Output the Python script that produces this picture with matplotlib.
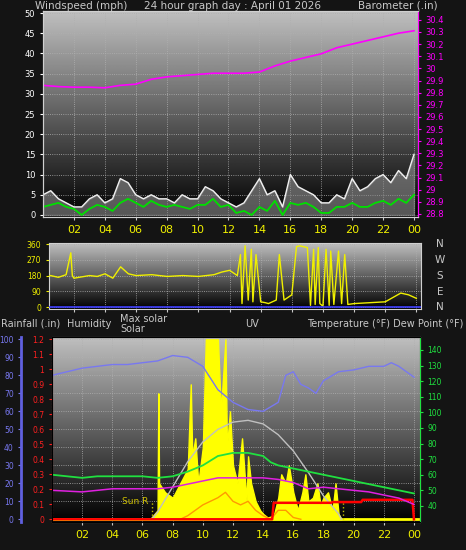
import numpy as np
import matplotlib.pyplot as plt

# top panel: wind (mph) and barometer (in)
wind_t = [0, 0.5, 1, 1.5, 2, 2.5, 3, 3.5, 4, 4.5, 5, 5.5, 6, 6.5, 7, 7.5, 8, 8.5, 9, 9.5, 10, 10.5,
          11, 11.5, 12, 12.5, 13, 13.5, 14, 14.5, 15, 15.5, 16, 16.5, 17, 17.5, 18, 18.5, 19, 19.5,
          20, 20.5, 21, 21.5, 22, 22.5, 23, 23.5, 24]
wind_avg = [2, 2.5, 3, 2, 1.5, 0, 1.5, 2.5, 2, 1, 3, 4, 3, 2, 3.5, 2.5, 2, 2.5, 2, 1.5, 2.5, 2.5,
            4, 2, 2.5, 0.5, 1, 0, 2, 1, 3.5, 0, 3, 2.5, 3, 2, 0.5, 0.5, 2, 2, 3, 2, 2, 3, 3.5,
            2.5, 4, 3, 5]
wind_gust = [5, 6, 4, 3, 2, 2, 4, 5, 3, 4, 9, 8, 5, 4, 5, 4, 4, 3, 5, 4, 4, 7, 6, 4, 3, 2, 3, 6,
             9, 5, 6, 2, 10, 7, 6, 5, 3, 3, 5, 4, 9, 6, 7, 9, 10, 8, 11, 9, 15]
baro_t = list(range(25))
baro = [29.86, 29.85, 29.845, 29.845, 29.84, 29.86, 29.87, 29.91, 29.93, 29.94, 29.95, 29.96,
        29.96, 29.96, 29.97, 30.02, 30.06, 30.09, 30.12, 30.17, 30.20, 30.23, 30.26, 30.29, 30.31]

# middle panel: wind direction (deg)
dir_t = [0, 0.5, 1, 1.5, 1.8, 1.9, 2, 3, 3.5, 4, 4.5, 5, 5.5, 6, 7, 8, 9, 10, 11, 11.5,
         12, 12.5, 12.7, 12.8, 13, 13.2, 13.4, 13.5, 13.7, 14, 14.3, 14.5, 15, 15.2, 15.5, 16,
         16.3, 16.5, 17, 17.2, 17.4, 17.5, 17.7, 17.8, 18, 18.2, 18.4, 18.5, 18.7, 19,
         19.2, 19.4, 19.6, 20, 21, 22, 22.5, 23, 23.5, 24]
dir_deg = [175, 180, 170, 185, 310, 180, 165, 180, 175, 190, 165, 230, 190, 180, 185, 175, 180, 175, 185, 200,
           210, 180, 300, 20, 350, 40, 330, 30, 300, 30, 25, 20, 40, 300, 40, 70,
           345, 350, 340, 10, 330, 15, 340, 20, 5, 330, 10, 320, 15, 320,
           20, 300, 15, 20, 25, 30, 55, 80, 70, 50]

# bottom panel
hum_t = [0, 1, 2, 3, 4, 5, 6, 7, 8, 9, 10, 11, 12, 13, 14, 15, 15.5, 16, 16.5, 17, 17.5, 18, 19,
         20, 21, 22, 22.5, 23, 24]
humidity = [80, 82, 84, 85, 86, 86, 87, 88, 91, 90, 85, 72, 65, 61, 60, 65, 80, 82, 75, 73, 70, 77,
            82, 83, 85, 85, 87, 85, 79]
temp_t = [0, 1, 2, 3, 4, 5, 6, 7, 8, 9, 10, 11, 12, 13, 14, 14.5, 15, 16, 17, 18, 19, 20, 21, 22, 23, 24]
temp = [60, 59, 58, 59, 59, 59, 59, 58, 59, 62, 66, 72, 74, 74, 72, 68, 66, 64, 62, 60, 58, 56, 54,
        52, 50, 48]
dew_t = [0, 2, 4, 6, 7, 8, 9, 10, 11, 12, 13, 14, 15, 16, 17, 18, 19, 20, 21, 22, 23, 24]
dew = [50, 49, 51, 51, 51, 52, 54, 56, 58, 58, 58, 58, 57, 55, 51, 52, 51, 50, 49, 47, 45, 41]
rain_t = [0, 14.6, 14.7, 18.5, 18.6, 20.5, 20.6, 23.9, 24]
rain = [0, 0, 0.11, 0.11, 0.115, 0.115, 0.13, 0.13, 0]
maxsol_t = [6.6, 7, 8, 9, 10, 11, 12, 13, 14, 15, 16, 17, 18, 19, 19.2]
maxsol = [0, 4, 18, 32, 43, 50, 54, 55, 53, 47, 38, 26, 13, 3, 0]
sol_t = [6.5, 7, 7.05, 7.1, 7.5, 8, 8.5, 9, 9.2, 9.3, 9.5, 9.7, 10, 10.2, 10.5, 11, 11.2, 11.5, 11.6,
         11.8, 12, 12.3, 12.6, 12.9, 13, 13.2, 13.5, 13.8, 14, 14.3, 14.7, 15, 15.2, 15.5, 15.7, 16,
         16.3, 16.6, 16.8, 17, 17.3, 17.6, 17.8, 18, 18.3, 18.6, 18.8, 19, 19.2]
solar = [0, 5, 70, 20, 15, 12, 20, 28, 75, 35, 45, 20, 40, 100, 100, 100, 60, 100, 40,
         60, 30, 20, 45, 10, 35, 20, 10, 5, 3, 1, 2, 12, 25, 20, 30, 15,
         5, 15, 25, 10, 12, 20, 8, 12, 15, 5, 20, 3, 0]
uv_t = [8.5, 9, 9.5, 10, 10.5, 11, 11.5, 12, 12.5, 13, 13.5, 14, 14.5, 15, 15.5, 16, 16.5]
uv = [0, 2, 5, 8, 10, 12, 15, 10, 8, 10, 5, 2, 0, 5, 5, 1, 0]

hours = list(range(2, 25, 2))
hour_lbl = ['%02d' % (h % 24) for h in hours]

W, H = 466, 550
fig = plt.figure(figsize=(W / 100, H / 100), dpi=100, facecolor='#141414')
TXT = '#c8c8c8'
FS = 6


def panel(rect, top=0.75, dark=0.0):
    ax = fig.add_axes(rect)
    grad = np.linspace(top, dark, 256).reshape(-1, 1)
    ax.imshow(grad, aspect='auto', cmap='gray', vmin=0, vmax=1,
              extent=(0, 1, 0, 1), transform=ax.transAxes, zorder=0)
    ax.grid(True, color='#b0b0b0', linestyle=':', linewidth=0.6, zorder=1)
    for s in ax.spines.values():
        s.set_color('#d0d0d0')
    ax.tick_params(labelsize=FS, length=2, colors=TXT)
    return ax


def px(l, t, r, b):
    return [l / W, 1 - b / H, (r - l) / W, (b - t) / H]


# ---- top
ax1 = panel(px(43, 11, 418, 217))
ax1.fill_between(wind_t, wind_gust, color='#909090', zorder=2, alpha=0.6)
ax1.plot(wind_t, wind_gust, color='#f0f0f0', lw=1.0, zorder=2)
ax1.plot(wind_t, wind_avg, color='#00e000', lw=1.3, zorder=3)
ax1.set_xlim(0, 24.26)
ax1.set_ylim(-0.5, 50.5)
ax1.set_yticks(range(0, 51, 5))
ax1.set_xticks(hours)
ax1.set_xticklabels(hour_lbl, color='#f0f000', fontsize=8)
ax1.tick_params(axis='y', colors='white')
axb = ax1.twinx()
axb.plot(baro_t, baro, color='#ff00ff', lw=1.2)
axb.set_ylim(28.775, 30.473)
axb.set_yticks(np.arange(28.8, 30.45, 0.1))
axb.set_yticklabels(['%g' % round(v, 1) for v in np.arange(28.8, 30.45, 0.1)])
axb.tick_params(labelsize=FS, colors='#ff00ff', length=2)
for s in axb.spines.values():
    s.set_color('#d0d0d0')
axb.spines['right'].set_color('#ff00ff')

fig.text(35 / W, 1 - 6 / H, 'Windspeed (mph)', color=TXT, fontsize=7.5, va='center')
fig.text(232 / W, 1 - 6 / H, '24 hour graph day : April 01 2026', color=TXT, fontsize=7.5,
         va='center', ha='center')
fig.text(438 / W, 1 - 6 / H, 'Barometer (.in)', color=TXT, fontsize=7.5, va='center', ha='right')

# ---- middle
ax2 = panel(px(49, 243, 421, 309))
ax2.plot(dir_t, dir_deg, color='#f0f000', lw=1.0, zorder=3)
ax2.axhline(0, color='#4040ff', lw=1.2, zorder=3)
ax2.set_xlim(0.4, 24.3)
ax2.set_ylim(-11, 366)
ax2.set_yticks([0, 90, 180, 270, 360])
ax2.tick_params(axis='y', colors='#f0f000', labelsize=5.5)
ax2.set_xticks(hours)
ax2.tick_params(axis='x', labelbottom=False)
for lbl, yy in zip(['N', 'W', 'S', 'E', 'N'], [244, 260, 276, 292, 307]):
    fig.text(440 / W, 1 - yy / H, lbl, color=TXT, fontsize=7.5, va='center', ha='center')

# ---- bottom
ax3 = panel(px(52, 337, 420, 522))
ax3.fill_between(sol_t, solar, color='#ffff00', zorder=2)
ax3.plot(maxsol_t, maxsol, color='#c0c0c0', lw=1.0, zorder=3)
ax3.plot(uv_t, uv, color='#ff9900', lw=1.0, zorder=3)
ax3.plot(hum_t, humidity, color='#7878f0', lw=1.0, zorder=3)
ax3.axhline(0, color='#ffff00', lw=2, zorder=2)
for xv in (6.6, 19.3):
    ax3.plot([xv, xv], [0, 10], color='#c0c000', ls=':', lw=1, zorder=3)
ax3.text(6.4, 10, 'Sun R', color='#d0c000', fontsize=6.5, ha='right', va='center', zorder=4)
ax3.set_xlim(0, 24.4)
ax3.set_ylim(-1.5, 101.3)
ax3.set_yticks(range(0, 101, 10))
ax3.tick_params(axis='y', colors='#7878f0', labelsize=5.5)
ax3.spines['left'].set_position(('outward', 22))
ax3.spines['left'].set_color('#6060e0')
ax3.spines['left'].set_linewidth(2)
ax3.set_xticks(hours)
ax3.set_xticklabels(hour_lbl, color='#f0f000', fontsize=8)

axr = ax3.twinx()
axr.plot(rain_t, rain, color='#ff0000', lw=1.8)
axr.set_ylim(-0.018, 1.216)
axr.yaxis.set_ticks_position('left')
axr.set_yticks(np.arange(0, 1.21, 0.1))
axr.set_yticklabels(['%g' % round(v, 1) for v in np.arange(0, 1.21, 0.1)])
axr.tick_params(labelsize=5.5, colors='#ff2020', length=2)
axr.spines['left'].set_color('#ff4040')
axr.spines['left'].set_linestyle(':')

axt = ax3.twinx()
axt.plot(temp_t, temp, color='#20e040', lw=1.3)
axt.plot(dew_t, dew, color='#e020e0', lw=1.1)
axt.set_ylim(29.7, 148.3)
axt.set_yticks(range(40, 141, 10))
axt.tick_params(labelsize=5.5, colors='#20e040', length=2)
axt.spines['right'].set_color('#20e040')

fig.text(1 / W, 1 - 324 / H, 'Rainfall (.in)', color=TXT, fontsize=7, va='center')
fig.text(67 / W, 1 - 324 / H, 'Humidity', color=TXT, fontsize=7, va='center')
fig.text(120 / W, 1 - 324 / H, 'Max solar\nSolar', color=TXT, fontsize=7, va='center',
         linespacing=0.9)
fig.text(252 / W, 1 - 324 / H, 'UV', color=TXT, fontsize=7, va='center', ha='center')
fig.text(463 / W, 1 - 324 / H, 'Temperature (°F) Dew Point (°F)', color=TXT, fontsize=7,
         va='center', ha='right')

fig.savefig('out.png', dpi=100, facecolor=fig.get_facecolor())
